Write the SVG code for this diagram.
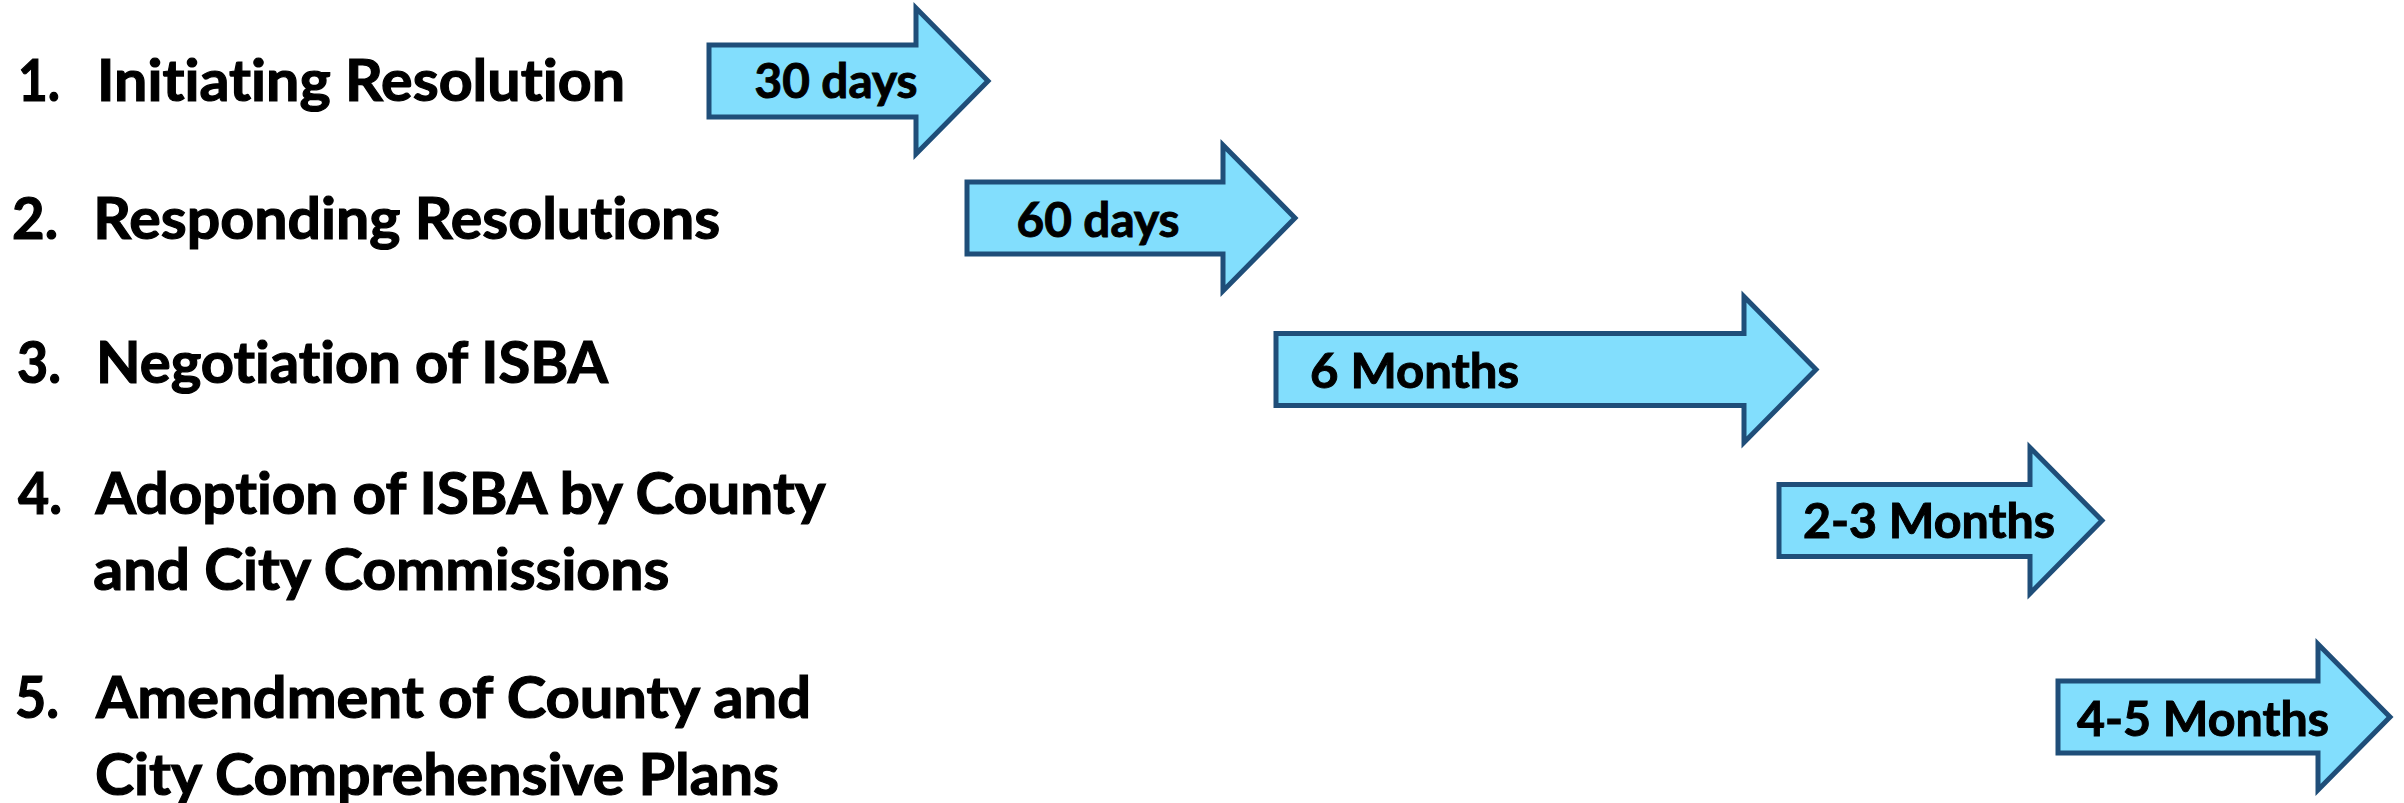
<svg xmlns="http://www.w3.org/2000/svg" width="2404" height="803" viewBox="0 0 2404 803">
<style>
.lbl{font-family:Lato,"Open Sans","Liberation Sans",sans-serif;font-weight:700;font-size:58px;fill:#000;stroke:#000;stroke-width:1.2;font-variant-ligatures:none}
.dur{font-family:Lato,"Open Sans","Liberation Sans",sans-serif;font-weight:700;font-size:48px;fill:#000;stroke:#000;stroke-width:1;font-variant-ligatures:none}
.arrow{fill:#82DEFD;stroke:#1F4E79;stroke-width:5;stroke-linejoin:miter}
</style>
<rect width="2404" height="803" fill="#fff"/>
<g id="step1">
<text class="lbl" x="18" y="100.7" textLength="42" lengthAdjust="spacingAndGlyphs">1.</text>
<text class="lbl" x="97" y="100.7" textLength="528" lengthAdjust="spacingAndGlyphs">Initiating Resolution</text>
</g>
<g id="step2">
<text class="lbl" x="12" y="239" textLength="46" lengthAdjust="spacingAndGlyphs">2.</text>
<text class="lbl" x="93.3" y="239" textLength="627" lengthAdjust="spacingAndGlyphs">Responding Resolutions</text>
</g>
<g id="step3">
<text class="lbl" x="17" y="383" textLength="44" lengthAdjust="spacingAndGlyphs">3.</text>
<text class="lbl" x="96" y="383" textLength="512" lengthAdjust="spacingAndGlyphs">Negotiation of ISBA</text>
</g>
<g id="step4">
<text class="lbl" x="18" y="513.5" textLength="44" lengthAdjust="spacingAndGlyphs">4.</text>
<text class="lbl" x="95.5" y="513.5" textLength="730" lengthAdjust="spacingAndGlyphs">Adoption of ISBA by County</text>
<text class="lbl" x="93.3" y="590" textLength="576" lengthAdjust="spacingAndGlyphs">and City Commissions</text>
</g>
<g id="step5">
<text class="lbl" x="15" y="718" textLength="44" lengthAdjust="spacingAndGlyphs">5.</text>
<text class="lbl" x="96" y="718" textLength="715" lengthAdjust="spacingAndGlyphs">Amendment of County and</text>
<text class="lbl" x="95" y="795" textLength="684" lengthAdjust="spacingAndGlyphs">City Comprehensive Plans</text>
</g>
<g id="connectors">
<g id="arrow1">
<path class="arrow" d="M709,45 H916 V8 L988,81 L916,154 V117 H709 Z"/>
<text class="dur" x="754.5" y="98" textLength="163" lengthAdjust="spacingAndGlyphs">30 days</text>
</g>
<g id="arrow2">
<path class="arrow" d="M967,182 H1223 V145 L1295,218 L1223,291 V254 H967 Z"/>
<text class="dur" x="1016.5" y="237" textLength="163" lengthAdjust="spacingAndGlyphs">60 days</text>
</g>
<g id="arrow3">
<path class="arrow" d="M1276,333.5 H1744 V296.5 L1816,369.5 L1744,442.5 V405.5 H1276 Z"/>
<text class="dur" x="1310" y="388" textLength="209" lengthAdjust="spacingAndGlyphs">6 Months</text>
</g>
<g id="arrow4">
<path class="arrow" d="M1779,484.5 H2030 V447.5 L2102,520.5 L2030,593.5 V556.5 H1779 Z"/>
<text class="dur" x="1803" y="537.5" textLength="252" lengthAdjust="spacingAndGlyphs">2-3 Months</text>
</g>
<g id="arrow5">
<path class="arrow" d="M2058,681 H2318 V644 L2390,717 L2318,790 V753 H2058 Z"/>
<text class="dur" x="2077" y="736" textLength="252" lengthAdjust="spacingAndGlyphs">4-5 Months</text>
</g>
</g>
</svg>
